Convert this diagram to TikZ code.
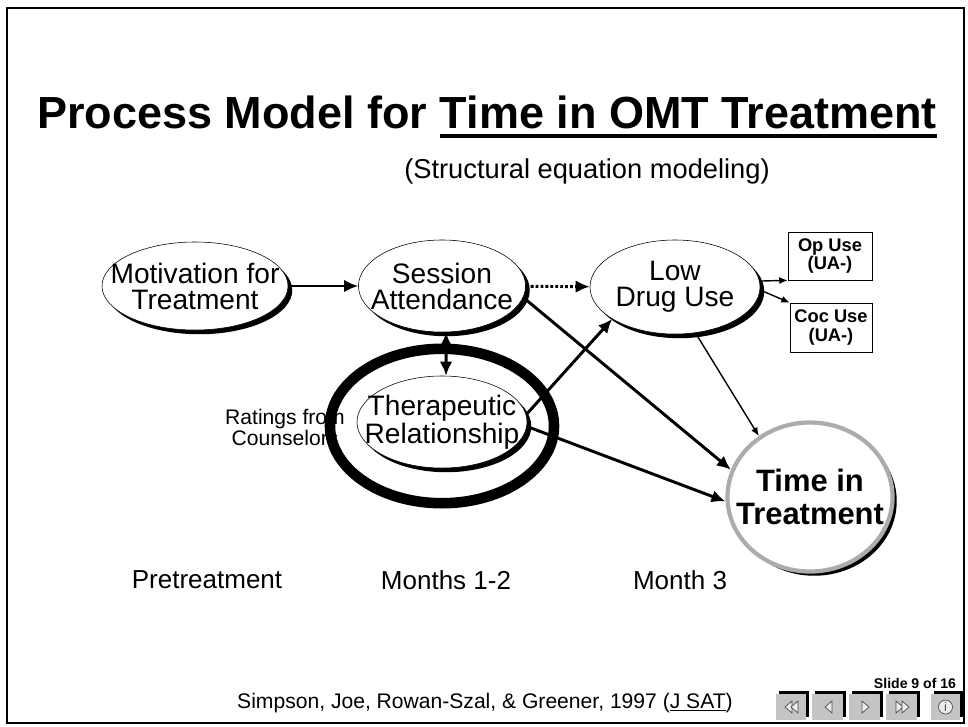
\documentclass[tikz,border=0pt]{standalone}
\usepackage{fontspec}
\setmainfont{Liberation Sans}
\usetikzlibrary{arrows.meta,shapes.geometric,shadows}

\definecolor{btngray}{RGB}{196,196,196}
\newcommand{\thickul}[1]{\setbox0\hbox{#1}\rlap{\rule[-7pt]{\wd0}{2.8pt}}\box0}
% zero-width line, so the oval keeps its own size
\newcommand{\zl}[1]{\makebox[0pt]{#1}}

\begin{document}
\begin{tikzpicture}[x=0.025cm,y=-0.025cm,
    oval/.style={ellipse,draw,fill=white,inner sep=0pt,align=center,
      font=\fontsize{20}{18.5}\selectfont,
      drop shadow={shadow xshift=3pt,shadow yshift=-3pt,fill=black,opacity=1}},
    usebox/.style={rectangle,draw,fill=white,inner sep=0pt,align=center,
      font=\bfseries\fontsize{13}{13}\selectfont},
    link/.style={-{Latex[length=10pt,width=9pt]},line width=2.1pt},
    thinlink/.style={-{Latex[length=6pt,width=5pt]},line width=1pt},
    period/.style={font=\fontsize{18.5}{20}\selectfont},
    navbtn/.style={fill=btngray},
    navglyph/.style={draw=gray!60!black,fill=gray!15,line width=0.5pt}]
  \useasboundingbox (0,0) rectangle (968,726);
  \draw[line width=2.1pt] (7,8) rectangle (964,723);

  % heading
  \node[anchor=base,font=\bfseries\fontsize{32}{32}\selectfont] (title) at (487,128)
    {Process Model for \thickul{Time in OMT Treatment}};
  \node[anchor=base,font=\fontsize{19.4}{20}\selectfont] (subtitle) at (587,178)
    {(Structural equation modeling)};

  % ratings ring
  \node[align=center,font=\fontsize{15}{15}\selectfont] (rating) at (285,427)
    {Ratings from\\Counselors};
  \node[ellipse,draw,line width=7.5pt,minimum width=5.6cm,minimum height=3.86cm]
    (ring) at (442,426) {};

  % constructs
  \node[oval,minimum width=4.65cm,minimum height=2.2cm] (mot) at (195,286)
    {\zl{Motivation for}\\\zl{Treatment}};
  \node[oval,minimum width=4.175cm,minimum height=2.3cm] (ses) at (442,286)
    {\zl{Session}\\\zl{Attendance}};
  \node[oval,minimum width=4.25cm,minimum height=2.35cm] (low) at (675,287)
    {\zl{Low}\\\zl{Drug Use}};
  \node[oval,minimum width=4.25cm,minimum height=2.3cm] (ther) at (442,422)
    {\zl{Therapeutic}\\\zl{Relationship}};
  \node[usebox,minimum width=2.1cm,minimum height=1.2cm] (op) at (830,256)
    {Op Use\\(UA-)};
  \node[usebox,minimum width=2.05cm,minimum height=1.225cm] (coc) at (831,327.5)
    {Coc Use\\(UA-)};
  \node[oval,draw=gray!65,line width=3pt,minimum width=4.125cm,minimum height=3.725cm,
    font=\bfseries\fontsize{22}{24}\selectfont] (time) at (810,497)
    {\zl{Time in}\\\zl{Treatment}};

  % paths
  \draw[link] (mot) -- (ses);
  \draw[link,dash pattern=on 2pt off 1.5pt] (ses) -- (low);
  \draw[link,{Latex[length=10pt,width=9pt]}-{Latex[length=10pt,width=9pt]}]
    (ses.-85) -- (ther.85);
  \draw[link] (ses.-8) -- (time.161);
  \draw[link] (ther.5) -- (low.-153);
  \draw[link] (ther.-3) -- (time.183);
  \draw[thinlink] (low.-66) -- (time.130);
  \draw[thinlink] (low.4) -- (op.south west);
  \draw[thinlink] (low.-2) -- (coc.north west);

  % time line
  \node[period] (pre) at (207,580) {Pretreatment};
  \node[period] (m12) at (446,580) {Months 1-2};
  \node[period] (m3) at (680,580) {Month 3};

  % footer
  \node[font=\fontsize{15}{15}\selectfont] (cite) at (485,703)
    {Simpson, Joe, Rowan-Szal, \& Greener, 1997 (\underline{J SAT})};
  \node[font=\bfseries\fontsize{10}{10}\selectfont] (slide) at (915,683) {Slide 9 of 16};

  % navigation buttons
  \foreach \x/\w in {776/30,812/31,849/31,886/31,931/29}{
    \fill (\x+3,691) rectangle (\x+\w+3,717);
    \fill[navbtn] (\x,694) rectangle (\x+\w,720);
  }
  \draw[navglyph] (785,707) -- (792,701) -- (792,713) -- cycle;
  \draw[navglyph] (791,707) -- (798,701) -- (798,713) -- cycle;
  \draw[navglyph] (825,707) -- (832,701) -- (832,713) -- cycle;
  \draw[navglyph] (862,701) -- (869,707) -- (862,713) -- cycle;
  \draw[navglyph] (896,701) -- (903,707) -- (896,713) -- cycle;
  \draw[navglyph] (902,701) -- (909,707) -- (902,713) -- cycle;
  \draw[navglyph] (945.5,707) circle (7);
  \node[font=\fontsize{9}{9}\selectfont,text=gray!60!black] (info) at (945.5,707) {i};
\end{tikzpicture}
\end{document}
